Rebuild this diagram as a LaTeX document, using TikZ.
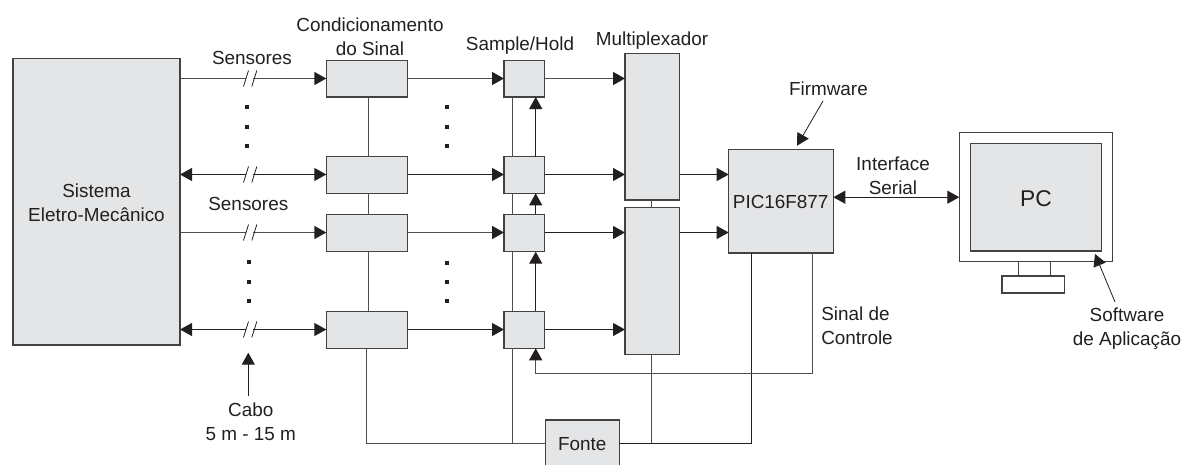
\documentclass[tikz,border=0pt]{standalone}
\usepackage{fontspec}
\setmainfont{Liberation Sans}
\usetikzlibrary{arrows.meta,calc}
\definecolor{ink}{HTML}{231F20}
\definecolor{wire}{HTML}{4E4E50}
\definecolor{panel}{HTML}{E4E5E7}
\tikzset{
  boxn/.style={draw=ink!85!white,fill=panel,line width=1.2pt,inner sep=0pt,outer sep=0pt},
  whitebox/.style={boxn,fill=white},
  lbl/.style={text=ink,inner sep=0pt,outer sep=0pt,anchor=base,align=center,font=\fontsize{18.9}{24}\selectfont},
  lblL/.style={lbl,align=left},
  tip/.style={-{Triangle[length=12pt,width=13pt,color=ink,fill=ink]}},
  tips/.style={{Triangle[length=12pt,width=13pt,color=ink,fill=ink]}-{Triangle[length=12pt,width=13pt,color=ink,fill=ink]}},
  ln/.style={color=ink,line width=1.1pt},
  gw/.style={color=wire,line width=1.4pt},
  gap/.style={draw=white,line width=4pt},
  slash/.style={color=ink,line width=.8pt},
  dotn/.style={fill=ink,draw=none,minimum size=4pt,inner sep=0pt,outer sep=0pt}
}
\newcommand{\bx}[6][boxn]{\node[#1,minimum width={(#5-#3)*1pt},minimum height={(#6-#4)*1pt}] (#2) at ({(#3+#5)/2},{(#4+#6)/2}) {};}
\newcommand{\ticks}[1]{%
  \draw[gap] ($(#1)+(-4.5,0)$) -- ($(#1)+(2.5,0)$);
  \draw[slash] ($(#1)+(-6.5,8)$) -- ($(#1)+(-1.5,-8)$);
  \draw[slash] ($(#1)+(1.8,8)$) -- ($(#1)+(6.8,-8)$);}
\begin{document}
\begin{tikzpicture}[x=1pt,y=-1pt]
\useasboundingbox (0,0) rectangle (1182,464);
% boxes
\bx{sys}{13}{58.5}{180}{345}
\bx{c1}{326.3}{60.3}{407.7}{97}
\bx{c2}{326.3}{156.7}{407.7}{193.3}
\bx{c3}{326.3}{214.3}{407.7}{251.7}
\bx{c4}{326.3}{311.3}{407.7}{348.3}
\bx{s1}{504}{60.3}{544.7}{97}
\bx{s2}{504}{156.7}{544.7}{193.3}
\bx{s3}{504}{214.3}{544.7}{251.7}
\bx{s4}{504}{311.3}{544.7}{348.3}
\bx{m1}{625}{53.3}{679.7}{200}
\bx{m2}{625}{207.7}{679.7}{354.3}
\bx{pic}{728.7}{149.7}{833.3}{253}
\bx{fonte}{545.3}{420}{619.3}{467}
\bx[whitebox]{pcstand}{1018.7}{261.7}{1050.3}{276}
\bx[whitebox]{pcbase}{1002}{276}{1064.3}{293}
\bx[whitebox]{pcout}{959.3}{132.7}{1112.3}{261.7}
\bx{pcin}{970.3}{143.3}{1101.3}{251}
% helper coordinates
\coordinate (bl) at (366.7,443.5);
\coordinate (br) at (751.7,443.5);
\coordinate (ctl) at (535.7,373.5);
\coordinate (ctr) at (812.5,373.5);
\coordinate (t1) at (250,78.5);
\coordinate (t2) at (250,174.5);
\coordinate (t3) at (250,232.5);
\coordinate (t4) at (250,329.5);
% sensor lines
\draw[gw,tip] (sys.east |- t1) -- (c1.west |- t1);
\draw[ln,tips] (sys.east |- t2) -- (c2.west |- t2);
\draw[gw,tip] (sys.east |- t3) -- (c3.west |- t3);
\draw[ln,tips] (sys.east |- t4) -- (c4.west |- t4);
\ticks{t1}\ticks{t2}\ticks{t3}\ticks{t4}
% cond -> s/h
\draw[gw,tip] (c1.east |- t1) -- (s1.west |- t1);
\draw[ln,tip] (c2.east |- t2) -- (s2.west |- t2);
\draw[gw,tip] (c3.east |- t3) -- (s3.west |- t3);
\draw[ln,tip] (c4.east |- t4) -- (s4.west |- t4);
% s/h -> mux
\draw[gw,tip] (s1.east |- t1) -- (m1.west |- t1);
\draw[ln,tip] (s2.east |- t2) -- (m1.west |- t2);
\draw[ln,tip] (s3.east |- t3) -- (m2.west |- t3);
\draw[ln,tip] (s4.east |- t4) -- (m2.west |- t4);
% mux -> pic
\draw[ln,tip] (m1.east |- t2) -- (pic.west |- t2);
\draw[ln,tip] (m2.east |- t3) -- (pic.west |- t3);
% power links
\draw[gw] (368.7,97) -- (368.7,156.7) (368.7,193.3) -- (368.7,214.3) (368.7,251.7) -- (368.7,311.3);
\draw[gw] (512.7,97) -- (512.7,156.7) (512.7,193.3) -- (512.7,214.3) (512.7,251.7) -- (512.7,311.3);
\draw[gw] (c4.south -| bl) -- (bl) -- (fonte.west |- bl);
\draw[gw] (512.7,348.3) -- (512.7,443.5);
\draw[gw] (651.3,200) -- (651.3,207.7);
\draw[gw] (651.3,354.3) -- (651.3,443.5);
\draw[ln] (fonte.east |- bl) -- (br) -- (pic.south -| br);
% control
\draw[ln,tip] (s2.north -| ctl) -- (s1.south -| ctl);
\draw[ln,tip] (s3.north -| ctl) -- (s2.south -| ctl);
\draw[ln,tip] (s4.north -| ctl) -- (s3.south -| ctl);
\draw[gw,tip] (pic.south -| ctr) -- (ctr) -- (ctl) -- (s4.south -| ctl);
% serial
\draw[ln,tips] (pic.east |- pcout.west) -- (pcout.west);
% label arrows
\coordinate (fwa) at (823,101);
\coordinate (fwb) at (797,145.7);
\draw[ln,line width=.8pt,tip] (fwa) -- (fwb);
\coordinate (caa) at (248.3,395.7);
\coordinate (cab) at (248.3,352.7);
\draw[ln,tip] (caa) -- (cab);
\coordinate (swa) at (1115,302);
\coordinate (swb) at (1095,254);
\draw[ln,line width=.8pt,tip] (swa) -- (swb);
% dots
\foreach \n/\x/\y in {a/247/107,b/247/126.7,c/247/146.3,d/447.3/107,e/447.3/126.7,f/447.3/146.3,g/249/261.7,h/249/281.7,i/249/300.7,j/447.3/262.7,k/447.3/281.7,l/447.3/300.7}
  \node[dotn] (dot\n) at (\x,\y) {};
% labels
\node[lbl] (tsens1) at (252,64) {Sensores};
\node[lbl] (tsens2) at (248.3,210.7) {Sensores};
\node[lbl] (tcond) at (370,55) {Condicionamento\\do Sinal};
\node[lbl] (tsh) at (520,50.7) {Sample/Hold};
\node[lbl] (tmux) at (652,45) {Multiplexador};
\node[lbl] (tfw) at (828.4,95.7) {Firmware};
\node[lbl] (tif) at (893,194) {Interface\\Serial};
\node[lblL] (tsc) at (857,344.3) {Sinal de\\Controle};
\node[lbl] (tsw) at (1127,345.7) {Software\\de Aplicação};
\node[lbl] (tcabo) at (250.7,440) {Cabo\\5 m - 15 m};
\node[lbl] (tsys) at (96.5,221) {Sistema\\Eletro-Mecânico};
\node[lbl] (tpic) at (780.7,208.3) {PIC16F877};
\node[lbl] (tfonte) at (582.3,450.7) {Fonte};
\node[lbl,font=\fontsize{22.8}{27}\selectfont] (tpc) at (1036,206.7) {PC};
\end{tikzpicture}
\end{document}
